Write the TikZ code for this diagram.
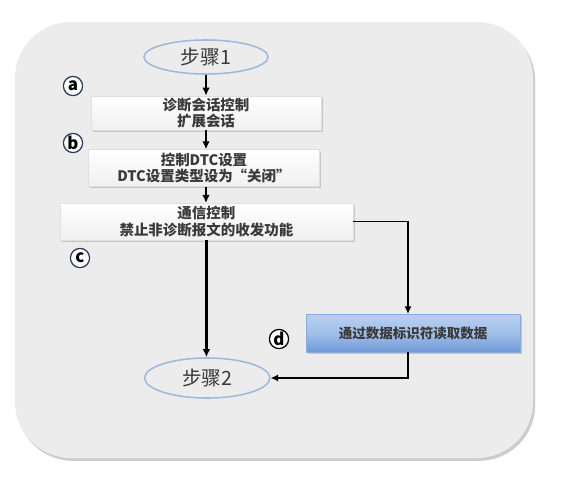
\documentclass[tikz,border=0pt]{standalone}
\usepackage{fontspec}
\newfontfamily\cjk{Noto Sans CJK SC}
\usetikzlibrary{shapes.geometric,shadows,arrows.meta}
\definecolor{panelgray}{HTML}{ECECEC}
\definecolor{ovalblue}{HTML}{9DB9DC}
\definecolor{textgray}{HTML}{3A3A3A}
\definecolor{markblue}{HTML}{2B3A5C}
\definecolor{readtop}{HTML}{B7D0F0}
\definecolor{readbot}{HTML}{6E98D6}
\tikzset{
    stepoval/.style={ellipse, draw=ovalblue, line width=1.1pt, fill=panelgray,
        minimum width=3.1cm, minimum height=0.85cm, inner sep=0pt,
        font=\cjk\fontsize{14}{16}\selectfont, text=textgray},
    flowbox/.style={rectangle, draw=gray!25, top color=white, bottom color=gray!12,
        drop shadow={shadow xshift=0.4mm, shadow yshift=-0.5mm, opacity=0.35},
        minimum height=0.9cm, inner sep=1pt, align=center,
        font=\cjk\bfseries\fontsize{10.3}{12}\selectfont, text=textgray},
    readbox/.style={flowbox, draw=readbot!80, top color=readtop, bottom color=readbot,
        middle color=readtop!70!readbot, font=\cjk\bfseries\fontsize{9.6}{12}\selectfont},
    markcirc/.style={circle, draw=markblue, line width=0.9pt, fill=white,
        minimum size=0.48cm, inner sep=0pt, font=\cjk\bfseries\fontsize{12}{12}\selectfont},
    mainarrow/.style={line width=1.7pt, -{Latex[length=2mm,width=1.9mm]}},
    sidearrow/.style={line width=1.2pt, -{Latex[length=1.9mm,width=1.8mm]}}
}
\begin{document}
\begin{tikzpicture}
    % page and panel
    \useasboundingbox (0,0) rectangle (14.025,-11.95);
    \fill[white] (0,0) rectangle (14.025,-11.95);
    \fill[gray!40, rounded corners=1.4cm] (0.42,-0.62) rectangle (13.38,-11.52);
    \fill[panelgray, rounded corners=1.4cm] (0.375,-0.55) rectangle (13.325,-11.45);

    % steps
    \node[stepoval] (step1) at (5.15,-1.425) {步骤1};
    \node[flowbox, minimum width=5.75cm, minimum height=0.85cm] (session) at (5.15,-2.825) {诊断会话控制\\扩展会话};
    \node[flowbox, minimum width=5.78cm, minimum height=0.92cm] (dtc) at (5.1,-4.2) {控制DTC设置\\DTC设置类型设为“关闭”};
    \node[flowbox, minimum width=7.33cm, minimum height=0.92cm] (comm) at (5.16,-5.54) {通信控制\\禁止非诊断报文的收发功能};
    \node[readbox, minimum width=5.35cm, minimum height=0.95cm] (readdid) at (10.33,-8.33) {通过数据标识符读取数据};
    \node[stepoval, minimum width=3.13cm, minimum height=1.0cm] (step2) at (5.18,-9.45) {步骤2};

    % letters
    \node[markcirc] (marka) at (1.825,-2.15) {a};
    \node[markcirc] (markb) at (1.825,-3.575) {b};
    \node[markcirc] (markc) at (2.0,-6.45) {c};
    \node[markcirc, draw=black] (markd) at (6.975,-8.475) {d};

    % connectors
    \coordinate (splitin) at ([xshift=-0.13cm]readdid.north);
    \coordinate (splitout) at ([xshift=-0.13cm]readdid.south);
    \draw[mainarrow] (step1) -- (session);
    \draw[mainarrow] (session) -- (dtc.north -| session.south);
    \draw[mainarrow] (dtc.south -| session.south) -- (comm.north -| session.south);
    \draw[mainarrow] (comm.south) -- (comm.south |- step2.north);
    \draw[sidearrow] (comm.east) -| (splitin);
    \draw[sidearrow] (splitout) |- (step2.east);
\end{tikzpicture}
\end{document}
